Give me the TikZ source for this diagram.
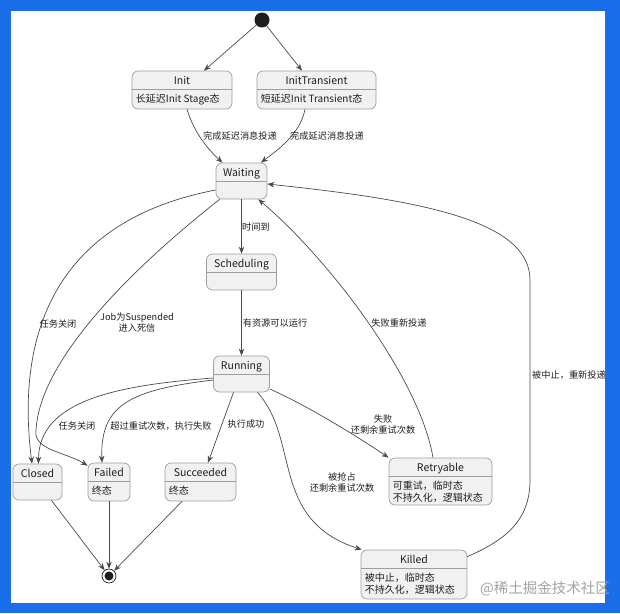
\documentclass[tikz,border=0pt]{standalone}
\usepackage{fontspec}
\setmainfont{Noto Sans CJK SC}
\usetikzlibrary{arrows.meta,calc}
\definecolor{Frame}{HTML}{1A6EEA}
\definecolor{StateFill}{HTML}{F1F1F1}
\definecolor{StateLine}{HTML}{9E9E9E}
\definecolor{Wire}{HTML}{4A4A4A}
\definecolor{Ink}{HTML}{1E1E1E}
\definecolor{Mark}{HTML}{A3A3A3}

% state box: name, x, y, width, height, title, body
\newcommand{\statebox}[7]{%
  \node[state,minimum width=#4pt,minimum height=#5pt] (#1) at (#2,#3) {};
  \node[statetitle,anchor=base] (#1-title) at ([yshift=-13.5pt]#1.north) {#6};
  \draw[statesep] ([yshift=-19pt]#1.north west) -- ([yshift=-19pt]#1.north east);
  \node[statebody,anchor=base west] (#1-body) at ([xshift=4pt,yshift=-31.5pt]#1.north west) {\begin{tabular}[t]{@{}l@{}}#7\end{tabular}};
}

\begin{document}
\begin{tikzpicture}[
  x=1pt,y=-1pt,
  state/.style={rounded corners=6pt,draw=StateLine,fill=StateFill,line width=0.7pt,inner sep=0pt},
  statetitle/.style={font=\fontsize{10.5}{12}\selectfont,text=Ink,inner sep=0pt},
  statebody/.style={font=\fontsize{10}{12.5}\selectfont,text=Ink,inner sep=0pt},
  statesep/.style={draw=StateLine,line width=0.6pt},
  startdot/.style={circle,fill=Ink,minimum size=15pt,inner sep=0pt},
  enddot/.style={circle,draw=Ink,line width=0.7pt,fill=white,minimum size=14pt,inner sep=0pt,
    path picture={\fill[Ink] (path picture bounding box.center) circle (4.5pt);}},
  arrow/.style={-{Stealth[length=7pt,width=5.5pt]},draw=Wire,line width=0.7pt},
  lbl/.style={font=\fontsize{9.2}{11}\selectfont,text=Ink,align=center,inner sep=0pt}
]
\useasboundingbox (0,0) rectangle (620,613);
\fill[Frame] (0,0) rectangle (620,613);
\fill[white] (11,11) rectangle (605,603);

% states
\node[startdot] (start) at (262,20) {};
\statebox{init}{182}{90}{100}{38}{Init}{长延迟Init Stage态}
\statebox{initT}{316.5}{90}{119}{38}{InitTransient}{短延迟Init Transient态}
\statebox{waiting}{241.5}{181}{51}{36}{Waiting}{}
\statebox{sched}{241.5}{272}{70}{36}{Scheduling}{}
\statebox{running}{241.5}{374}{56}{36}{Running}{}
\statebox{closed}{37.5}{482}{49}{36}{Closed}{}
\statebox{failed}{109}{482}{42}{38}{Failed}{终态}
\statebox{succ}{200.5}{482}{71}{38}{Succeeded}{终态}
\statebox{retry}{440.5}{481.5}{103}{47}{Retryable}{可重试，临时态\\不持久化，逻辑状态}
\statebox{killed}{414}{574.5}{106}{49}{Killed}{被中止，临时态\\不持久化，逻辑状态}
\node[enddot] (final) at (109,576) {};

% transitions
\draw[arrow] (start) -- ([xshift=22pt]init.north);
\draw[arrow] (start) -- ([xshift=-14.5pt]initT.north);
\draw[arrow] ([xshift=5pt]init.south) .. controls +(8,26) and +(-12,-11) .. ([xshift=-19pt]waiting.north);
\draw[arrow] ([xshift=-11.5pt]initT.south) .. controls +(-5,26) and +(14,-11) .. ([xshift=19.5pt]waiting.north);
\draw[arrow] (waiting.south) -- (waiting.south |- sched.north);
\draw[arrow] (sched.south) -- (sched.south |- running.north);
\draw[arrow] ([yshift=-9pt]waiting.west) .. controls +(-157,30) and +(-17,-134) .. ([xshift=-5.5pt]closed.north);
\coordinate (suspHook) at (36,430);
\draw[arrow] ([xshift=4pt]waiting.south west) .. controls (130,270) and (40,360) .. (suspHook)
  .. controls +(-3,20) and +(-23,-14) .. ([yshift=-3pt]failed.north west);
\draw[arrow] ([yshift=-4pt]running.west) .. controls +(-93,7) and +(0,-64) .. ([xshift=1pt]closed.north);
\draw[arrow] ([yshift=-6pt]running.west) .. controls +(-83,10) and +(-2,-58) .. ([xshift=-7pt]failed.north);
\draw[arrow] ([xshift=-8pt]running.south) -- ([xshift=7.5pt]succ.north);
\draw[arrow] ([yshift=-15pt]running.east) .. controls +(36,16) and +(-34,-23) .. (retry.north west);
\draw[arrow] ([xshift=16pt]running.south) .. controls +(43,48) and +(-92,-30) .. ([xshift=1pt]killed.north west);
\draw[arrow] ([xshift=-7.5pt]retry.north) .. controls +(-13,-78) and +(72,61) .. ([xshift=-9pt]waiting.south east);
\coordinate (abortLow) at (530,480);
\coordinate (abortHigh) at (530,280);
\draw[arrow] ([yshift=-7pt]killed.north east) .. controls +(39,-17) and +(0,40) .. (abortLow) -- (abortHigh)
  .. controls +(0,-60) and +(152,16) .. ([yshift=-3pt]waiting.east);
\draw[arrow] ([xshift=14pt]closed.south) -- (final);
\draw[arrow] (failed.south) -- (final);
\draw[arrow] ([xshift=-18.5pt]succ.south) -- (final);

% labels
\node[lbl] (lblInit) at (240,136) {完成延迟消息投递};
\node[lbl] (lblInitT) at (327,136) {完成延迟消息投递};
\node[lbl] (lblTime) at (256,227) {时间到};
\node[lbl] (lblRes) at (275,323) {有资源可以运行};
\node[lbl] (lblClose) at (58,324) {任务关闭};
\node[lbl] (lblSusp) at (137,323) {Job为Suspended\\进入死信};
\node[lbl] (lblRunClose) at (77,426) {任务关闭};
\node[lbl] (lblFail) at (161,426) {超过重试次数，执行失败};
\node[lbl] (lblSucc) at (246,424) {执行成功};
\node[lbl] (lblRetry) at (383,425) {失败\\还剩余重试次数};
\node[lbl] (lblPreempt) at (342,482) {被抢占\\还剩余重试次数};
\node[lbl] (lblRedeliver) at (399,323) {失败重新投递};
\node[lbl,anchor=west] (lblAbort) at (532,375) {被中止，重新投递};
\node[font=\fontsize{14.5}{16}\selectfont,text=Mark,inner sep=0pt] (mark) at (545,589) {@稀土掘金技术社区};
\end{tikzpicture}
\end{document}
